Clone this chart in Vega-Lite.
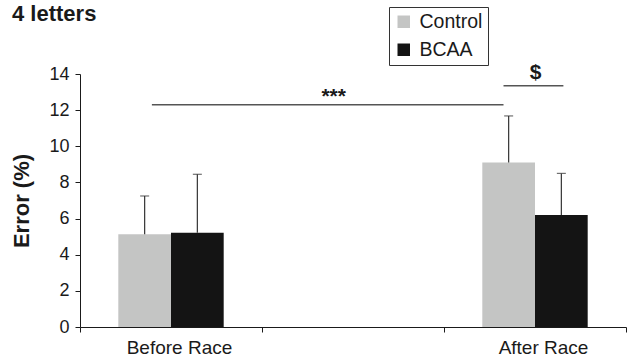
{
  "$schema": "https://vega.github.io/schema/vega-lite/v6.json",
  "width": 546,
  "height": 253,
  "autosize": {"type": "none"},
  "padding": {"left": 80, "top": 74, "right": 4, "bottom": 35},
  "background": "white",
  "config": {
    "view": {"stroke": null},
    "font": "Liberation Sans",
    "axisY": {"grid": false, "tickSize": 5, "tickColor": "#1a1a1a", "domainColor": "#1a1a1a", "labelFontSize": 18, "labelColor": "#1a1a1a", "labelPadding": 6, "titleFontSize": 22, "titleFontWeight": "bold", "titleColor": "#1a1a1a", "titlePadding": 15, "labelOverlap": false, "tickCount": 8}
  },
  "title": {"text": "4 letters", "anchor": "start", "frame": "group", "dx": -68, "offset": -36, "baseline": "alphabetic", "fontSize": 22, "fontWeight": "bold", "font": "Liberation Sans", "color": "#1a1a1a"},
  "datasets": {
    "bars": [
      {"time": "Before Race", "group": "Control", "mean": 5.13, "upper": 7.25},
      {"time": "Before Race", "group": "BCAA", "mean": 5.22, "upper": 8.45},
      {"time": "After Race", "group": "Control", "mean": 9.1, "upper": 11.68},
      {"time": "After Race", "group": "BCAA", "mean": 6.2, "upper": 8.5}
    ],
    "lines": [
      {"x": 0.395, "x2": 2.327, "y": 12.3},
      {"x": 2.327, "x2": 2.656, "y": 13.35}
    ],
    "labels": [
      {"x": 1.394, "y": 12.4, "label": "***"},
      {"x": 2.503, "y": 13.71, "label": "$"}
    ]
  },
  "layer": [
    {
      "data": {"name": "bars"},
      "encoding": {
        "x": {"field": "time", "type": "nominal",
              "scale": {"domain": ["Before Race", "mid", "After Race"], "paddingInner": 0, "paddingOuter": 0},
              "axis": {"title": null, "labelAngle": 0, "tickBand": "extent", "tickSize": 5, "tickColor": "#1a1a1a", "domainColor": "#1a1a1a", "labelFontSize": 19, "labelColor": "#1a1a1a", "labelPadding": 6, "labelOffset": 8, "labelExpr": "datum.value == 'mid' ? '' : datum.value"}},
        "xOffset": {"field": "group", "type": "nominal", "scale": {"domain": ["Control", "BCAA"], "paddingInner": 0, "paddingOuter": 0.727}}
      },
      "layer": [
        {
          "mark": {"type": "bar"},
          "encoding": {
            "y": {"field": "mean", "type": "quantitative",
                  "scale": {"domain": [0, 14], "nice": false},
                  "axis": {"title": "Error (%)", "values": [0, 2, 4, 6, 8, 10, 12, 14]}},
            "color": {"field": "group", "type": "nominal",
                      "scale": {"domain": ["Control", "BCAA"], "range": ["#c4c5c4", "#141414"]},
                      "legend": {"title": null, "orient": "none", "legendX": 309, "legendY": -67, "strokeColor": "#333333", "fillColor": "white", "padding": 5, "symbolType": "square", "symbolSize": 156, "symbolStrokeWidth": 0, "labelFontSize": 19.5, "labelColor": "#1a1a1a", "labelOffset": 6, "rowPadding": 7}}
          }
        },
        {
          "mark": {"type": "rule", "color": "#333333", "strokeWidth": 1.2},
          "encoding": {
            "y": {"field": "mean", "type": "quantitative", "axis": {"title": "Error (%)", "values": [0, 2, 4, 6, 8, 10, 12, 14]}},
            "y2": {"field": "upper"}
          }
        },
        {
          "mark": {"type": "tick", "color": "#333333", "thickness": 1.2, "size": 9},
          "encoding": {
            "y": {"field": "upper", "type": "quantitative", "axis": {"title": "Error (%)", "values": [0, 2, 4, 6, 8, 10, 12, 14]}}
          }
        }
      ]
    },
    {
      "data": {"name": "lines"},
      "mark": {"type": "rule", "color": "#555555", "strokeWidth": 1.6},
      "encoding": {
        "x": {"field": "x", "type": "quantitative", "scale": {"domain": [0, 3], "nice": false, "zero": false}, "axis": null},
        "x2": {"field": "x2"},
        "y": {"field": "y", "type": "quantitative", "axis": {"title": "Error (%)", "values": [0, 2, 4, 6, 8, 10, 12, 14]}}
      }
    },
    {
      "data": {"name": "labels"},
      "mark": {"type": "text", "fontSize": 21, "fontWeight": "bold", "color": "#1a1a1a", "baseline": "alphabetic"},
      "encoding": {
        "x": {"field": "x", "type": "quantitative", "scale": {"domain": [0, 3], "nice": false, "zero": false}, "axis": null},
        "y": {"field": "y", "type": "quantitative", "axis": {"title": "Error (%)", "values": [0, 2, 4, 6, 8, 10, 12, 14]}},
        "text": {"field": "label"}
      }
    }
  ],
  "resolve": {"scale": {"x": "independent"}}
}
